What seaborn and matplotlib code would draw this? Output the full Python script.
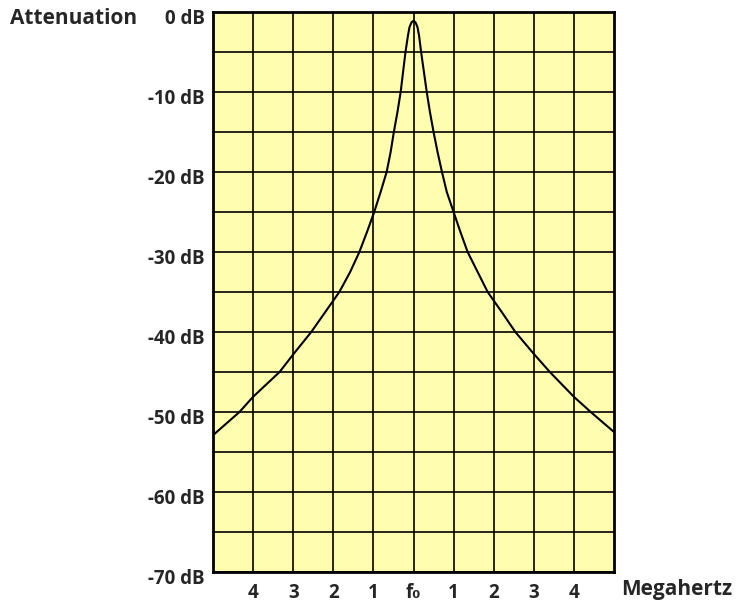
import matplotlib
matplotlib.use("Agg")
import matplotlib.pyplot as plt
import matplotlib.transforms as mtransforms
import seaborn as sns

# Frequency offset from f0 (MHz, negative = below f0) and attenuation
offset_mhz = [-5.0, -4.34, -4.0, -3.34, -3.0, -2.55, -2.2, -1.85, -1.58, -1.35,
              -1.16, -0.98, -0.82, -0.67, -0.57, -0.49, -0.40, -0.32, -0.26, -0.20,
              -0.14, -0.10, -0.05, 0.0, 0.05, 0.10, 0.14, 0.19, 0.26, 0.33,
              0.41, 0.50, 0.60, 0.71, 0.83, 1.0, 1.17, 1.35, 1.6, 1.85,
              2.2, 2.54, 2.96, 3.4, 4.0, 4.42, 5.0]
attenuation_db = [-52.9, -50, -48.1, -45, -42.8, -40, -37.5, -35, -32.5, -30,
                  -27.5, -25, -22.5, -20, -17.5, -15, -12.5, -10, -7.5, -5,
                  -3, -1.9, -1.3, -1.1, -1.3, -1.9, -3, -5, -7.5, -10,
                  -12.5, -15, -17.5, -20, -22.5, -25, -27.5, -30, -32.5, -35,
                  -37.5, -40, -42.5, -45, -48.1, -50, -52.5]

x_ticks = [-4, -3, -2, -1, 0, 1, 2, 3, 4]
x_labels = ["4", "3", "2", "1", "f\u2080", "1", "2", "3", "4"]
y_ticks = [0, -10, -20, -30, -40, -50, -60, -70]
y_labels = ["0 dB", "-10 dB", "-20 dB", "-30 dB", "-40 dB", "-50 dB", "-60 dB", "-70 dB"]

sns.set_style("white")
plt.rcParams["font.family"] = ["Open Sans", "DejaVu Sans"]

fig = plt.figure(figsize=(7.39, 6.06), dpi=100)
ax = fig.add_axes([213 / 739, 1 - 572 / 606, 401 / 739, 560 / 606])
ax.set_facecolor("#fffdb0")

sns.lineplot(x=offset_mhz, y=attenuation_db, color="black", linewidth=1.5, ax=ax)

ax.set_xlim(-5, 5)
ax.set_ylim(-70, 0)
ax.set_xticks(x_ticks)
ax.set_xticklabels(x_labels, fontsize=13.5, fontweight="bold")
ax.set_yticks(y_ticks)
ax.set_yticklabels(y_labels, fontsize=13.5, fontweight="bold")
ax.set_yticks(list(range(-65, 0, 10)), minor=True)
ax.tick_params(which="both", length=0)
ax.tick_params(axis="x", pad=8)
ax.tick_params(axis="y", pad=6)

# grid drawn as plain black lines
ax.grid(which="both", color="black", linewidth=1.2)
ax.set_axisbelow(True)
for s in ax.spines.values():
    s.set_color("black")
    s.set_linewidth(2)

# nudge y labels down a bit like the original
shift = mtransforms.ScaledTranslation(0, -4 / 100, fig.dpi_scale_trans)
for lab in ax.get_yticklabels():
    lab.set_transform(lab.get_transform() + shift)

fig.text(10 / 739, 1 - 19 / 606, "Attenuation", fontsize=15, fontweight="bold",
         ha="left", va="center")
fig.text(621 / 739, 1 - 590 / 606, "Megahertz", fontsize=15, fontweight="bold",
         ha="left", va="center")

fig.savefig("out.png", dpi=100)
